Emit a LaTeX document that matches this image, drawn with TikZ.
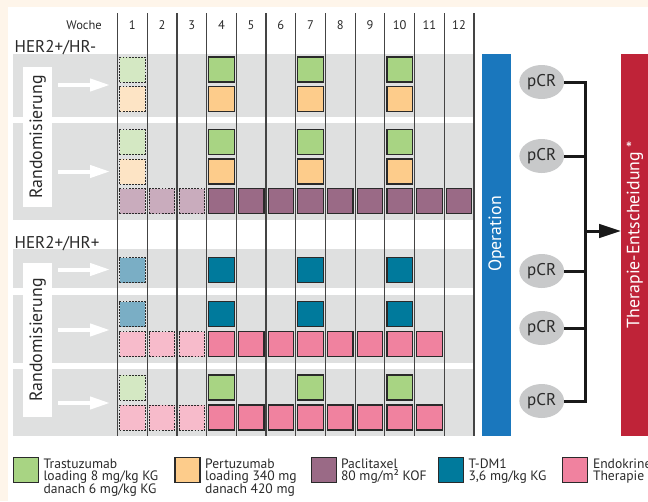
\documentclass[tikz,border=0pt]{standalone}
\usepackage{fontspec}
\setmainfont{PT Sans}
\usetikzlibrary{arrows.meta,shapes.geometric}

\definecolor{cream}{HTML}{FEF5EA}
\definecolor{band}{HTML}{DFE0E0}
\definecolor{rule}{HTML}{444444}
\definecolor{ink}{HTML}{2A2A2A}
\definecolor{trast}{HTML}{A8D483}
\definecolor{trastL}{HTML}{D4E8C3}
\definecolor{pert}{HTML}{FDCC8B}
\definecolor{pertL}{HTML}{FDE4C5}
\definecolor{pacli}{HTML}{9A6A86}
\definecolor{pacliL}{HTML}{C9ACBD}
\definecolor{tdm}{HTML}{007A9C}
\definecolor{tdmL}{HTML}{7AAEC5}
\definecolor{endo}{HTML}{F0829F}
\definecolor{endoL}{HTML}{F7BBCB}
\definecolor{opblue}{HTML}{1A77BD}
\definecolor{decred}{HTML}{BF2338}
\definecolor{pcrgray}{HTML}{C8C9CA}

% x position of the centre of week column #1
\newcommand\wkx[1]{102.65+29.7*#1}
% one therapy cell: name, week, y, style
\newcommand\dosecell[4]{\node[#4] (#1) at ({\wkx{#2}},#3) {};}

\tikzset{
  cell/.style={draw=ink, line width=1.2pt, minimum width=25.5pt, minimum height=25pt,
    inner sep=0pt, outer sep=0pt},
  pre/.style={cell, line width=1pt, dash pattern=on 1.8pt off 1.3pt},
  trastcell/.style={cell, fill=trast}, trastpre/.style={pre, fill=trastL},
  pertcell/.style={cell, fill=pert},   pertpre/.style={pre, fill=pertL},
  paclicell/.style={cell, fill=pacli}, paclipre/.style={pre, fill=pacliL},
  tdmcell/.style={cell, fill=tdm},     tdmpre/.style={pre, fill=tdmL},
  endocell/.style={cell, fill=endo},   endopre/.style={pre, fill=endoL},
  weekrule/.style={draw=rule, line width=1.2pt},
  wklabel/.style={text=ink, font=\fontsize{12.5}{12.5}\selectfont, inner sep=0pt},
  grouplabel/.style={text=ink, font=\fontsize{17}{17}\selectfont, inner sep=0pt, anchor=west},
  randbox/.style={rotate=90, fill=white, text=ink, inner sep=0pt,
    font=\fontsize{17.8}{17.8}\selectfont},
  whitearrow/.style={draw=white, line width=4pt, -{Triangle[length=20pt, width=12pt]}},
  pcr/.style={ellipse, fill=pcrgray, text=ink, minimum width=44.7pt, minimum height=34pt,
    inner sep=0pt, font=\fontsize{17}{17}\selectfont},
  trunk/.style={draw=black!90, line width=3pt},
  bar/.style={inner sep=0pt, outer sep=0pt},
  bartext/.style={rotate=90, text=white, inner sep=0pt, font=\fontsize{17.8}{17.8}\selectfont},
  legbox/.style={cell, minimum width=25pt, minimum height=25pt},
  legtext/.style={text=ink, inner sep=0pt, anchor=north west, align=left,
    font=\fontsize{13.6}{12}\selectfont},
}

\begin{document}
\begin{tikzpicture}[x=1pt, y=-1pt]
\useasboundingbox (0,0) rectangle (648,501);
% page background
\fill[cream] (0,0) rectangle (648,501);
\fill[white] (7.5,7) rectangle (648,501);

% grey row bands
\fill[band] (12.7,53.5) rectangle (474,116.7);
\fill[band] (12.7,123.3) rectangle (474,220);
\fill[band] (12.7,249.3) rectangle (474,288.3);
\fill[band] (12.7,295) rectangle (474,362.7);
\fill[band] (12.7,369.3) rectangle (474,435.5);

% week grid
\foreach \k in {0,...,12}
  {\draw[weekrule] ({117.5+29.7*\k},13) -- ({117.5+29.7*\k},436);}

% header
\node[wklabel, anchor=east] (woche) at (102,25) {Woche};
\foreach \k in {1,...,12}
  {\node[wklabel] (w\k) at ({\wkx{\k}},25) {\k};}

\node[grouplabel] (hrneg) at (14.5,47.5) {HER2+/HR-};
\node[grouplabel] (hrpos) at (14.5,244) {HER2+/HR+};

% HER2+/HR- arm 1: trastuzumab + pertuzumab
\dosecell{a1}{1}{69.5}{trastpre}
\dosecell{b1}{1}{99}{pertpre}
\foreach \c in {4,7,10} {
  \dosecell{a\c}{\c}{69.5}{trastcell}
  \dosecell{b\c}{\c}{99}{pertcell}
}
% HER2+/HR- arm 2: plus paclitaxel
\dosecell{c1}{1}{142}{trastpre}
\dosecell{d1}{1}{171.5}{pertpre}
\foreach \c in {4,7,10} {
  \dosecell{c\c}{\c}{142}{trastcell}
  \dosecell{d\c}{\c}{171.5}{pertcell}
}
\foreach \c in {1,2,3} {\dosecell{e\c}{\c}{201}{paclipre}}
\foreach \c in {4,...,12} {\dosecell{e\c}{\c}{201}{paclicell}}

% HER2+/HR+ arm 1: T-DM1
\dosecell{f1}{1}{270}{tdmpre}
\foreach \c in {4,7,10} {\dosecell{f\c}{\c}{270}{tdmcell}}
% HER2+/HR+ arm 2: T-DM1 + endocrine therapy
\dosecell{g1}{1}{314}{tdmpre}
\foreach \c in {4,7,10} {\dosecell{g\c}{\c}{314}{tdmcell}}
\foreach \c in {1,2,3} {\dosecell{h\c}{\c}{344}{endopre}}
\foreach \c in {4,...,11} {\dosecell{h\c}{\c}{344}{endocell}}
% HER2+/HR+ arm 3: trastuzumab + endocrine therapy
\dosecell{i1}{1}{387.5}{trastpre}
\foreach \c in {4,7,10} {\dosecell{i\c}{\c}{387.5}{trastcell}}
\foreach \c in {1,2,3} {\dosecell{j\c}{\c}{417.5}{endopre}}
\foreach \c in {4,...,11} {\dosecell{j\c}{\c}{417.5}{endocell}}

% randomisation labels
\node[randbox, minimum width=140pt, minimum height=29.5pt] (rand1) at (37.7,137) {Randomisierung};
\node[randbox, minimum width=154pt, minimum height=29.5pt] (rand2) at (37.7,340) {Randomisierung};

% arrows into the arms
\foreach \n/\y in {1/85, 2/171.5, 3/269.5, 4/330, 5/403} {
  \coordinate (arm\n s) at (58,\y);
  \coordinate (arm\n e) at (110,\y);
  \draw[whitearrow] (arm\n s) -- (arm\n e);
}

% surgery and therapy decision
\node[bar, fill=opblue, minimum width=28.4pt, minimum height=381.7pt] (op) at (496.5,244.85) {};
\node[bartext] (optext) at (496.5,234) {Operation};
\node[bar, fill=decred, minimum width=27pt, minimum height=382pt] (dec) at (634.5,245) {};
\node[bartext] (dectext) at (635,234.5) {Therapie-Entscheidung *};

% pCR outcomes
\node[pcr] (p1) at (541.7,82) {pCR};
\node[pcr] (p2) at (541.7,156) {pCR};
\node[pcr] (p3) at (541.7,271) {pCR};
\node[pcr] (p4) at (541.7,328) {pCR};
\node[pcr] (p5) at (541.7,401) {pCR};

\coordinate (tx) at (585,0);
\coordinate (fork) at (585,231);
\draw[trunk, line join=miter] (p1.east) -- (p1.east -| tx) -- (p5.east -| tx) -- (p5.east);
\foreach \n in {2,3,4}
  {\draw[trunk] (p\n.east) -- (p\n.east -| tx);}
\draw[trunk, -{Triangle[length=22pt, width=13.5pt]}] (fork) -- (fork -| dec.west);

% legend
\node[legbox, fill=trast] (lg1) at (25.8,469.8) {};
\node[legtext] (lt1) at ([xshift=5pt,yshift=-1.2pt]lg1.north east)
  {Trastuzumab\\loading 8 mg/kg KG\\danach 6 mg/kg KG};
\node[legbox, fill=pert] (lg2) at (187.5,469.8) {};
\node[legtext] (lt2) at ([xshift=5pt,yshift=-1.2pt]lg2.north east)
  {Pertuzumab\\loading 340 mg\\danach 420 mg};
\node[legbox, fill=pacli] (lg3) at (324.3,469.8) {};
\node[legtext] (lt3) at ([xshift=4pt,yshift=-1.2pt]lg3.north east)
  {Paclitaxel\\80 mg/m² KOF};
\node[legbox, fill=tdm] (lg4) at (450.8,469.8) {};
\node[legtext] (lt4) at ([xshift=5pt,yshift=-1.2pt]lg4.north east)
  {T-DM1\\3,6 mg/kg KG};
\node[legbox, fill=endo] (lg5) at (575.3,469.8) {};
\node[legtext] (lt5) at ([xshift=5pt,yshift=-1.2pt]lg5.north east)
  {Endokrine\\Therapie};
\end{tikzpicture}
\end{document}
